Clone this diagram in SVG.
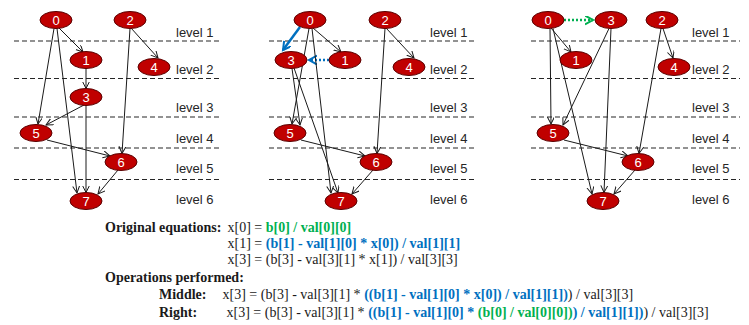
<svg xmlns="http://www.w3.org/2000/svg" width="749" height="325" viewBox="0 0 749 325">
<defs>
<style>
.nd ellipse{fill:#c00000;stroke:#5a0000;stroke-width:1}
.nd text{font-family:"Liberation Sans",Arial,sans-serif;font-size:13px;fill:#ffffff;text-anchor:middle}
.lv{font-family:"Liberation Sans",Arial,sans-serif;font-size:13px;fill:#262626}
.dl{stroke:#262626;stroke-width:1.2;stroke-dasharray:5 3;fill:none}
.e{stroke:#1a1a1a;stroke-width:1;fill:none;marker-end:url(#ah)}
.eq{font-family:"Liberation Serif","Times New Roman",serif;font-size:14px;fill:#1a1a1a}
.b{font-weight:bold}
.g{fill:#00b050;font-weight:bold}
.u{fill:#0070c0;font-weight:bold}
</style>
<marker id="ah" markerUnits="userSpaceOnUse" markerWidth="10" markerHeight="10" refX="7" refY="3.5" orient="auto">
<path d="M0,0 L7,3.5 L0,7" fill="none" stroke="#1a1a1a" stroke-width="1"/>
</marker>
<marker id="ahb" markerUnits="userSpaceOnUse" markerWidth="12" markerHeight="12" refX="8" refY="4.5" orient="auto">
<path d="M0,0 L8,4.5 L0,9" fill="none" stroke="#0070c0" stroke-width="2"/>
</marker>
<marker id="ahg" markerUnits="userSpaceOnUse" markerWidth="12" markerHeight="12" refX="8" refY="4.5" orient="auto">
<path d="M0,0 L8,4.5 L0,9" fill="none" stroke="#00b050" stroke-width="2"/>
</marker>
</defs>
<rect width="749" height="325" fill="#ffffff"/>

<g id="levels">
<path class="dl" d="M14,41H222M14,78.5H222M14,117H222M14,148H222M14,179.5H222"/>
<path class="dl" d="M269,41H477M269,78.5H477M269,117H477M269,148H477M269,179.5H477"/>
<path class="dl" d="M531,41H740M531,78.5H740M531,117H740M531,148H740M531,179.5H740"/>
<text class="lv" x="176" y="37">level 1</text>
<text class="lv" x="176" y="74">level 2</text>
<text class="lv" x="176" y="112">level 3</text>
<text class="lv" x="176" y="143">level 4</text>
<text class="lv" x="176" y="173">level 5</text>
<text class="lv" x="176" y="204">level 6</text>
<text class="lv" x="430" y="37">level 1</text>
<text class="lv" x="430" y="74">level 2</text>
<text class="lv" x="430" y="112">level 3</text>
<text class="lv" x="430" y="143">level 4</text>
<text class="lv" x="430" y="173">level 5</text>
<text class="lv" x="430" y="204">level 6</text>
<text class="lv" x="692" y="37">level 1</text>
<text class="lv" x="692" y="74">level 2</text>
<text class="lv" x="692" y="112">level 3</text>
<text class="lv" x="692" y="143">level 4</text>
<text class="lv" x="692" y="173">level 5</text>
<text class="lv" x="692" y="204">level 6</text>
</g>

<g id="connectors">
<!-- left -->
<path class="e" d="M59,28L83,52"/>
<path class="e" d="M54,28.5L38,124"/>
<path class="e" d="M57,28.5L77,193"/>
<path class="e" d="M86,68.5L86,88.5"/>
<path class="e" d="M84,105L46,125"/>
<path class="e" d="M86,105.5L86,192.5"/>
<path class="e" d="M131,28L158,58"/>
<path class="e" d="M130,28.5L122,153.5"/>
<path class="e" d="M47,140L110,156"/>
<path class="e" d="M118,170L98,194"/>
<!-- middle -->
<path d="M300,27L283,50" fill="none" stroke="#0070c0" stroke-width="2.5" marker-end="url(#ahb)"/>
<path d="M329,60L309,60" fill="none" stroke="#0070c0" stroke-width="2.5" stroke-dasharray="2 2" marker-end="url(#ahb)"/>
<path class="e" d="M313,28L341,52"/>
<path class="e" d="M309,28.5L292,124"/>
<path class="e" d="M312,28.5L331,193"/>
<path class="e" d="M292,68.5L300,125"/>
<path class="e" d="M294,68L338,193"/>
<path class="e" d="M386,28L414,58"/>
<path class="e" d="M385,28.5L377,153.5"/>
<path class="e" d="M301,140L365,156"/>
<path class="e" d="M373,170L352,194"/>
<!-- right -->
<path d="M564,20L593,20" fill="none" stroke="#00b050" stroke-width="2.5" stroke-dasharray="2 2" marker-end="url(#ahg)"/>
<path class="e" d="M551,28L571,52"/>
<path class="e" d="M550,28.5L551,124"/>
<path class="e" d="M553,28.5L592,194"/>
<path class="e" d="M609,28.5L563,125"/>
<path class="e" d="M611,28.5L604,192.5"/>
<path class="e" d="M663,28.5L673,58"/>
<path class="e" d="M661,28.5L639,153.5"/>
<path class="e" d="M564,140L628,156"/>
<path class="e" d="M635,170L614,194"/>
</g>

<g id="L0" class="nd"><ellipse cx="56" cy="20" rx="16" ry="8.5"/><text x="56" y="24.5">0</text></g>
<g id="L2" class="nd"><ellipse cx="130" cy="20" rx="16" ry="8.5"/><text x="130" y="24.5">2</text></g>
<g id="L1" class="nd"><ellipse cx="86" cy="60" rx="16" ry="8.5"/><text x="86" y="64.5">1</text></g>
<g id="L4" class="nd"><ellipse cx="154" cy="67" rx="16" ry="8.5"/><text x="154" y="71.5">4</text></g>
<g id="L3" class="nd"><ellipse cx="86" cy="97" rx="16" ry="8.5"/><text x="86" y="101.5">3</text></g>
<g id="L5" class="nd"><ellipse cx="36" cy="133" rx="16" ry="8.5"/><text x="36" y="137.5">5</text></g>
<g id="L6" class="nd"><ellipse cx="121" cy="162" rx="16" ry="8.5"/><text x="121" y="166.5">6</text></g>
<g id="L7" class="nd"><ellipse cx="86" cy="201" rx="16" ry="8.5"/><text x="86" y="205.5">7</text></g>

<g id="M0" class="nd"><ellipse cx="310" cy="20" rx="16" ry="8.5"/><text x="310" y="24.5">0</text></g>
<g id="M2" class="nd"><ellipse cx="385" cy="20" rx="16" ry="8.5"/><text x="385" y="24.5">2</text></g>
<g id="M3" class="nd"><ellipse cx="291" cy="60" rx="16" ry="8.5"/><text x="291" y="64.5">3</text></g>
<g id="M1" class="nd"><ellipse cx="345" cy="60" rx="16" ry="8.5"/><text x="345" y="64.5">1</text></g>
<g id="M4" class="nd"><ellipse cx="409" cy="67" rx="16" ry="8.5"/><text x="409" y="71.5">4</text></g>
<g id="M5" class="nd"><ellipse cx="290" cy="133" rx="16" ry="8.5"/><text x="290" y="137.5">5</text></g>
<g id="M6" class="nd"><ellipse cx="376" cy="162" rx="16" ry="8.5"/><text x="376" y="166.5">6</text></g>
<g id="M7" class="nd"><ellipse cx="341" cy="201" rx="16" ry="8.5"/><text x="341" y="205.5">7</text></g>

<g id="R0" class="nd"><ellipse cx="548" cy="20" rx="16" ry="8.5"/><text x="548" y="24.5">0</text></g>
<g id="R3" class="nd"><ellipse cx="611" cy="20" rx="16" ry="8.5"/><text x="611" y="24.5">3</text></g>
<g id="R2" class="nd"><ellipse cx="662" cy="20" rx="16" ry="8.5"/><text x="662" y="24.5">2</text></g>
<g id="R1" class="nd"><ellipse cx="576" cy="60" rx="16" ry="8.5"/><text x="576" y="64.5">1</text></g>
<g id="R4" class="nd"><ellipse cx="674" cy="67" rx="16" ry="8.5"/><text x="674" y="71.5">4</text></g>
<g id="R5" class="nd"><ellipse cx="553" cy="133" rx="16" ry="8.5"/><text x="553" y="137.5">5</text></g>
<g id="R6" class="nd"><ellipse cx="638" cy="162" rx="16" ry="8.5"/><text x="638" y="166.5">6</text></g>
<g id="R7" class="nd"><ellipse cx="603" cy="201" rx="16" ry="8.5"/><text x="603" y="205.5">7</text></g>

<g id="equations">
<text class="eq b" x="105" y="232">Original equations:</text>
<text class="eq" x="227.5" y="232">x[0] = <tspan class="g">b[0] / val[0][0]</tspan></text>
<text class="eq" x="227.5" y="248">x[1] = <tspan class="u">(b[1] - val[1][0] * x[0]) / val[1][1]</tspan></text>
<text class="eq" x="227.5" y="264">x[3] = (b[3] - val[3][1] * x[1]) / val[3][3]</text>
<text class="eq b" x="105" y="281.5">Operations performed:</text>
<text class="eq b" x="159" y="299">Middle:</text>
<text class="eq" x="222.5" y="299">x[3] = (b[3] - val[3][1] * <tspan class="u">((b[1] - val[1][0] * x[0]) / val[1][1])</tspan>) / val[3][3]</text>
<text class="eq b" x="159" y="316.5">Right:</text>
<text class="eq" x="226.5" y="316.5">x[3] = (b[3] - val[3][1] * <tspan class="u">((b[1] - val[1][0] * </tspan><tspan class="g">(b[0] / val[0][0])</tspan><tspan class="u">) / val[1][1])</tspan>) / val[3][3]</text>
</g>
</svg>
